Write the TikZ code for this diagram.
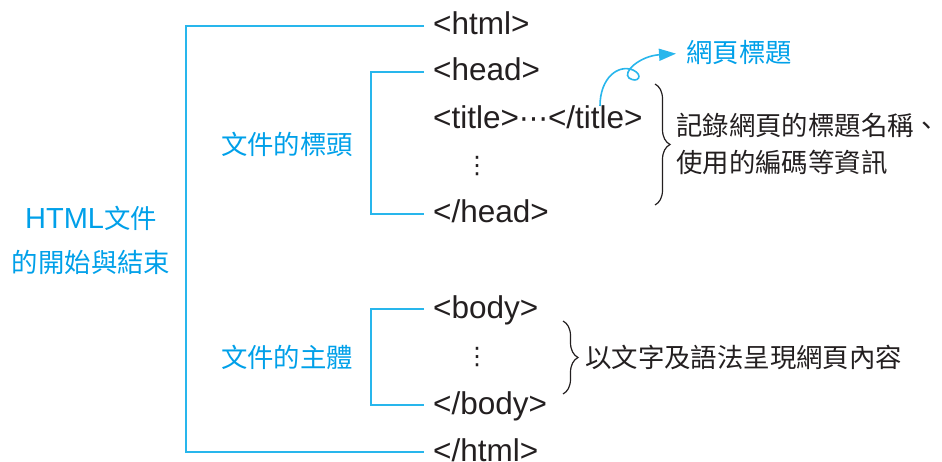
\documentclass[tikz,border=0pt]{standalone}
\usepackage{fontspec}
\setmainfont{Liberation Sans}
\newfontfamily\cjk{Noto Sans CJK TC}
\newfontfamily\dejavu{DejaVu Sans}
\usepackage{tikz}
\usetikzlibrary{arrows.meta,decorations.pathreplacing}
\definecolor{tagink}{RGB}{35,31,32}
\definecolor{skyline}{RGB}{40,182,236}
\definecolor{skytext}{RGB}{0,160,233}

\begin{document}
\begin{tikzpicture}[x=1pt,y=-1pt,
    tag/.style={anchor=west,inner sep=0pt,inner xsep=9pt,text height=22pt,text depth=4pt,
      font=\fontsize{31.5}{37}\selectfont,text=tagink},
    vdots/.style={inner sep=0pt,font=\dejavu\fontsize{24}{30}\selectfont,text=tagink},
    part/.style={inner sep=0pt,font=\cjk\fontsize{26.4}{37}\selectfont,text=skytext},
    note/.style={anchor=west,inner sep=0pt,align=left,font=\cjk\fontsize{26.4}{37}\selectfont,text=tagink},
    bracket/.style={draw=skyline,line width=2pt},
    curly/.style={draw=tagink,line width=1.2pt,decorate,decoration={brace,amplitude=15pt}},
    pointer/.style={draw=skyline,line width=1.6pt,-{Triangle[length=17pt,width=12pt]}}]
  \useasboundingbox (0,0) rectangle (942,462);

  % tags
  \node[tag] (html) at (424,26) {<html>};
  \node[tag] (head) at (424,72) {<head>};
  \node[tag] (title) at (424,120) {<title>{\dejavu\fontsize{29}{30}\selectfont ⋯}</title>};
  \node[vdots] (headdots) at (477,166) {⋮};
  \node[tag] (endhead) at (424,214) {</head>};
  \node[tag] (body) at (424,309) {<body>};
  \node[vdots] (bodydots) at (477,357) {⋮};
  \node[tag] (endbody) at (424,405) {</body>};
  \node[tag] (endhtml) at (424,452) {</html>};

  % parts
  \node[part] (headpart) at (287,144) {文件的標頭};
  \node[part] (bodypart) at (287,357) {文件的主體};
  \node[part,align=center,font=\cjk\fontsize{26.4}{44}\selectfont] (htmlpart) at (91,240)
    {{\rmfamily\fontsize{29}{44}\selectfont HTML}文件\\的開始與結束};
  \node[part,anchor=west] (webtitle) at (686,53) {網頁標題};

  % notes
  \node[note] (titlenote) at (676,144) {記錄網頁的標題名稱、\\使用的編碼等資訊};
  \node[note] (bodynote) at (585,357) {以文字及語法呈現網頁內容};

  % brackets
  \coordinate (outer) at (186,240);
  \coordinate (headcol) at (371,144);
  \coordinate (bodycol) at (371,357);
  \draw[bracket] (html.west) -| (outer) |- (endhtml.west);
  \draw[bracket] (head.west) -| (headcol) |- (endhead.west);
  \draw[bracket] (body.west) -| (bodycol) |- (endbody.west);

  % braces
  \coordinate (titletop) at (655,84);
  \coordinate (titlebot) at (655,205);
  \coordinate (bodytop) at (563,321);
  \coordinate (bodybot) at (563,394);
  \draw[curly] (titletop) -- (titlebot);
  \draw[curly] (bodytop) -- (bodybot);

  % title pointer
  \coordinate (titlemark) at (600,106);
  \draw[pointer,shorten >=10pt] (titlemark) .. controls (600,78) and (618,64) .. (633,70)
    .. controls (644,75) and (638,84) .. (629,78)
    .. controls (622,72) and (640,56) .. (webtitle.west);
\end{tikzpicture}
\end{document}
